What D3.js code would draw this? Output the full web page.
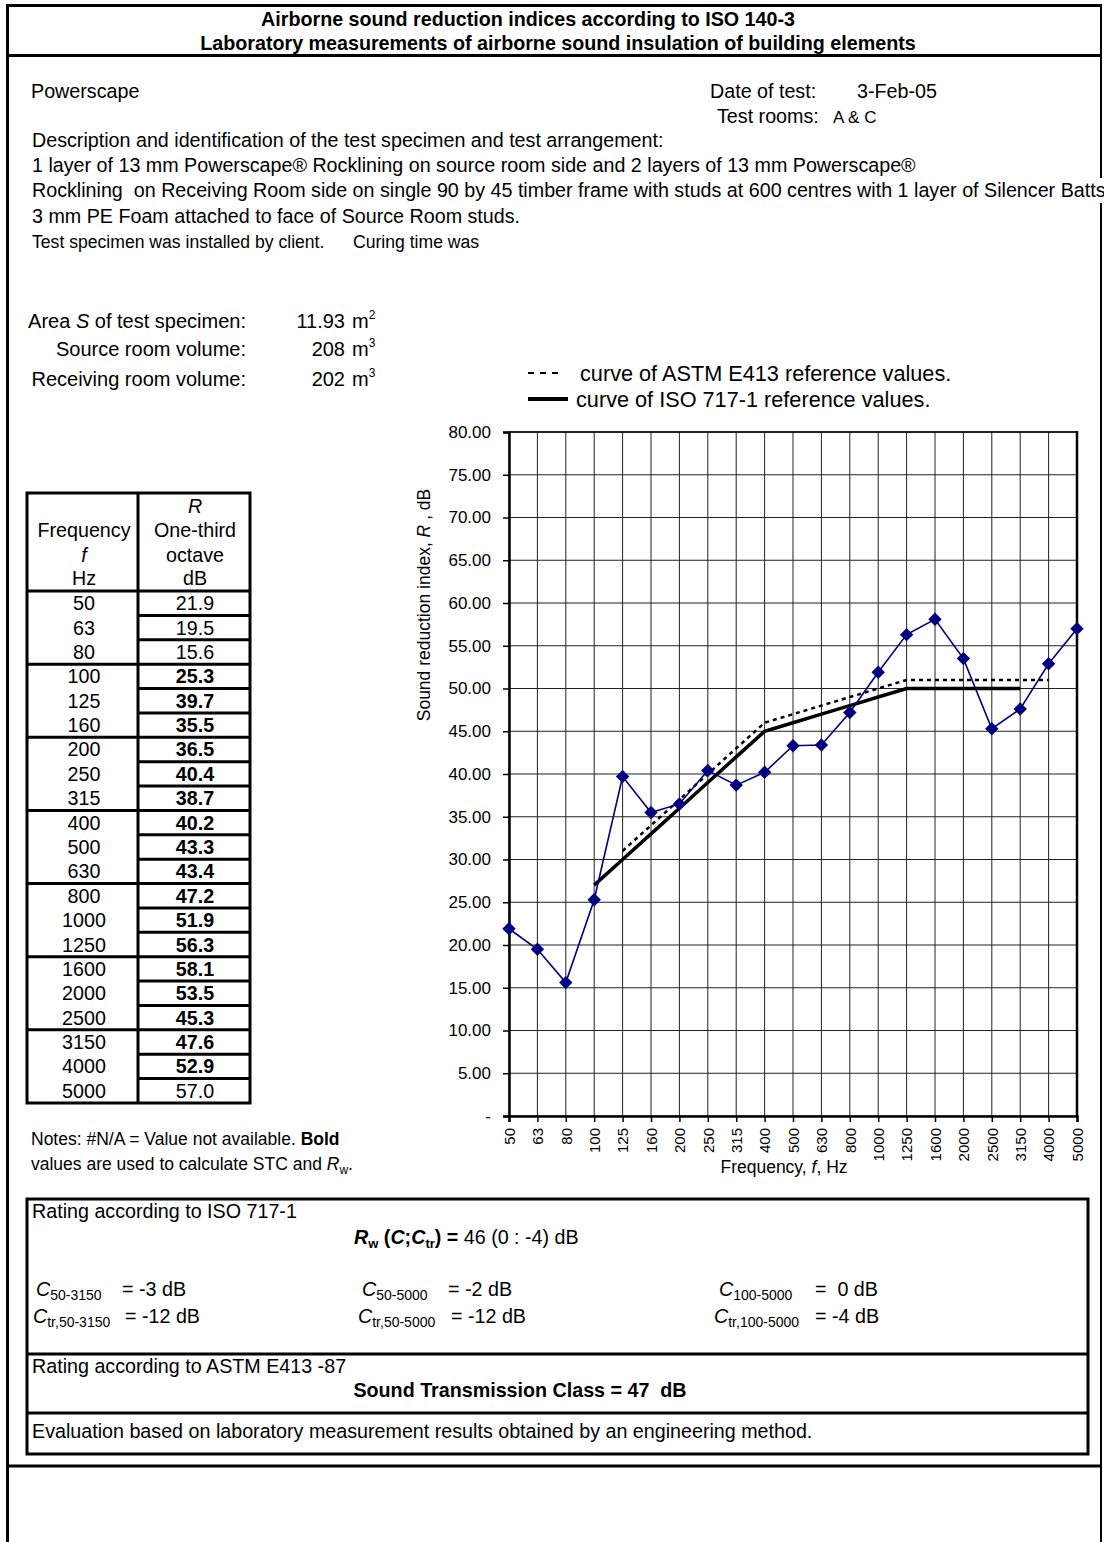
<!DOCTYPE html>
<html><head><meta charset="utf-8">
<script src="https://cdn.jsdelivr.net/npm/d3@7/dist/d3.min.js"></script>
<style>body{margin:0;background:#fff}svg{display:block;font-family:Arial,"Liberation Sans",sans-serif}</style>
</head><body><svg id="c" width="1104" height="1542"></svg>
<script>
const freqs = ["50","63","80","100","125","160","200","250","315","400","500","630","800","1000","1250","1600","2000","2500","3150","4000","5000"];
const measured = [21.9,19.5,15.6,25.3,39.7,35.5,36.5,40.4,38.7,40.2,43.3,43.4,47.2,51.9,56.3,58.1,53.5,45.3,47.6,52.9,57.0];
const boldFlags = [0,0,0,1,1,1,1,1,1,1,1,1,1,1,1,1,1,1,1,1,0];
const isoRef = [null,null,null,27,30,33,36,39,42,45,46,47,48,49,50,50,50,50,50,null,null];
const astmRef = [null,null,null,null,31,34,37,40,43,46,47,48,49,50,51,51,51,51,51,51,null];
const yTicks = [0,5,10,15,20,25,30,35,40,45,50,55,60,65,70,75,80];

const BASE = 19.7;
const svg = d3.select("#c");
function txt(x,y,s,opt={}){
  const t = svg.append("text").attr("x",x).attr("y",y).text(s)
    .attr("font-size",opt.size||BASE).attr("fill","#000");
  if(opt.bold) t.attr("font-weight","bold");
  if(opt.italic) t.attr("font-style","italic");
  if(opt.anchor) t.attr("text-anchor",opt.anchor);
  return t;
}
function line(x1,y1,x2,y2,w,col){
  return svg.append("line").attr("x1",x1).attr("y1",y1).attr("x2",x2).attr("y2",y2)
    .attr("stroke",col||"#000").attr("stroke-width",w||1);
}

// page frame
line(7.5,5.5,1101,5.5,3);
line(7.5,55.5,1101,55.5,3);
line(7.5,4,7.5,1542,3);
line(1101,4,1101,178,2);
line(1101,203,1101,1542,2);
line(7.5,1466,1101,1466,3);

// header
txt(528,26,"Airborne sound reduction indices according to ISO 140-3",{bold:true,anchor:"middle"});
txt(558,50,"Laboratory measurements of airborne sound insulation of building elements",{bold:true,anchor:"middle"});

txt(31,98,"Powerscape");
txt(710,98,"Date of test:");
txt(857,98,"3-Feb-05");
txt(717,123,"Test rooms:");
txt(833,123,"A & C",{size:17});

txt(32,147,"Description and identification of the test specimen and test arrangement:");
txt(32,172,"1 layer of 13 mm Powerscape® Rocklining on source room side and 2 layers of 13 mm Powerscape®");
txt(32,197,"Rocklining  on Receiving Room side on single 90 by 45 timber frame with studs at 600 centres with 1 layer of Silencer Batts").attr("xml:space","preserve");
txt(32,223,"3 mm PE Foam attached to face of Source Room studs.");
txt(32,248,"Test specimen was installed by client.",{size:17.6});
txt(353,248,"Curing time was",{size:17.6});

// area / volumes
const areaLabels = [["Area ",["S","i"]," of test specimen:"],["Source room volume:"],["Receiving room volume:"]];
const areaVals = ["11.93","208","202"];
const areaSup = ["2","3","3"];
const areaY = [328,356,386];
areaLabels.forEach((parts,i)=>{
  const t = txt(246,areaY[i],"",{anchor:"end",size:20}).attr("xml:space","preserve");
  parts.forEach(p=>{
    if(Array.isArray(p)) t.append("tspan").attr("font-style","italic").text(p[0]);
    else t.append("tspan").text(p);
  });
  txt(345,areaY[i],areaVals[i],{anchor:"end",size:20});
  const m = txt(352,areaY[i],"m",{size:20});
  m.append("tspan").attr("dy",-9).attr("font-size",12).text(areaSup[i]);
});

// legend
line(528,373,564,373,2).attr("stroke-dasharray","6,6");
txt(580,381,"curve of ASTM E413 reference values.",{size:21.7});
line(528,399,568,399,4);
txt(576,407,"curve of ISO 717-1 reference values.",{size:21.7});

// chart
const x = d3.scalePoint().domain(freqs).range([509,1077]);
const y = d3.scaleLinear().domain([0,80]).range([1116,432]);
const g = svg.append("g");
g.selectAll(".vg").data(freqs).join("line")
  .attr("x1",d=>x(d)).attr("x2",d=>x(d)).attr("y1",y(80)).attr("y2",y(0))
  .attr("stroke","#222").attr("stroke-width",1);
g.selectAll(".hg").data(yTicks).join("line")
  .attr("x1",x("50")).attr("x2",x("5000")).attr("y1",d=>y(d)).attr("y2",d=>y(d))
  .attr("stroke","#222").attr("stroke-width",1);
const ya = d3.axisLeft(y).tickValues(yTicks).tickSize(6).tickFormat(d=>d===0?"-":d3.format(".2f")(d));
const yg = svg.append("g").attr("transform",`translate(${x("50")},0)`).call(ya);
yg.select(".domain").attr("stroke-width",2.5);
yg.selectAll("text").attr("font-size",17).attr("font-family","Arial,'Liberation Sans',sans-serif").attr("fill","#000").attr("x",-18);
yg.selectAll(".tick line").attr("stroke-width",1.5);
const xa = d3.axisBottom(x).tickSize(6);
const xg = svg.append("g").attr("transform",`translate(0,${y(0)})`).call(xa);
xg.select(".domain").attr("stroke-width",2.5);
xg.selectAll(".tick line").attr("stroke-width",1.5);
xg.selectAll("text").attr("font-size",15).attr("font-family","Arial,'Liberation Sans',sans-serif").attr("fill","#000")
  .attr("transform","rotate(-90)").attr("text-anchor","end").attr("x",-12).attr("y",0).attr("dy","0.35em");
line(x("5000"),y(80)-1,x("5000"),y(0),2.5);
line(x("50"),y(80),x("5000")+1,y(80),1.5);

const yt = txt(0,0,"",{size:17.5,anchor:"middle"}).attr("transform","translate(430,605) rotate(-90)").attr("xml:space","preserve");
yt.append("tspan").text("Sound reduction index, ");
yt.append("tspan").attr("font-style","italic").text("R");
yt.append("tspan").text(" , dB");
const xt = txt(784,1173,"",{size:17.5,anchor:"middle"});
xt.append("tspan").text("Frequency, ");
xt.append("tspan").attr("font-style","italic").text("f");
xt.append("tspan").text(", Hz");

const idx = freqs.map((f,i)=>i);
const lineGen = arr => d3.line().defined(i=>arr[i]!=null).x(i=>x(freqs[i])).y(i=>y(arr[i]));
svg.append("path").attr("d",lineGen(astmRef)(idx)).attr("fill","none").attr("stroke","#000")
  .attr("stroke-width",2.5).attr("stroke-dasharray","4,4");
svg.append("path").attr("d",lineGen(isoRef)(idx)).attr("fill","none").attr("stroke","#000")
  .attr("stroke-width",3.5);
svg.append("path").attr("d",lineGen(measured)(idx)).attr("fill","none").attr("stroke","#000080")
  .attr("stroke-width",1.6);
svg.selectAll(".mk").data(idx).join("path")
  .attr("d",d3.symbol(d3.symbolSquare,90)())
  .attr("transform",i=>`translate(${x(freqs[i])},${y(measured[i])}) rotate(45)`)
  .attr("fill","#000080");

// table
const tX0=27, tX1=138, tX2=250, tY0=493, tH=591, rowH=(1103-591)/21;
svg.append("rect").attr("x",tX0).attr("y",tY0).attr("width",tX2-tX0).attr("height",1103-tY0)
  .attr("fill","none").attr("stroke","#000").attr("stroke-width",3);
line(tX1,tY0,tX1,1103,3);
line(tX0,tH,tX2,tH,3);
txt(195,513,"R",{italic:true,anchor:"middle"});
txt(84,537,"Frequency",{anchor:"middle"});
txt(195,537,"One-third",{anchor:"middle"});
txt(84,562,"f",{italic:true,anchor:"middle"});
txt(195,562,"octave",{anchor:"middle"});
txt(84,585,"Hz",{anchor:"middle"});
txt(195,585,"dB",{anchor:"middle"});
freqs.forEach((f,i)=>{
  const top = tH + i*rowH;
  if(i>0) line(tX1,top,tX2,top,3);
  if(i>0 && i%3===0) line(tX0,top,tX1,top,3);
  txt(84,top+rowH/2+7,f,{anchor:"middle"});
  txt(195,top+rowH/2+7,measured[i].toFixed(1),{anchor:"middle",bold:!!boldFlags[i]});
});

// notes
const n1 = txt(31,1145,"Notes: #N/A = Value not available. ",{size:17.5}).attr("xml:space","preserve");
n1.append("tspan").attr("font-weight","bold").text("Bold");
const n2 = txt(31,1170,"values are used to calculate STC and ",{size:17.5}).attr("xml:space","preserve");
n2.append("tspan").attr("font-style","italic").text("R");
n2.append("tspan").attr("font-size",12).attr("dy",4).text("w");
n2.append("tspan").attr("dy",-4).text(".");

// rating box
svg.append("rect").attr("x",27).attr("y",1199).attr("width",1088-27).attr("height",1454-1199)
  .attr("fill","none").attr("stroke","#000").attr("stroke-width",3);
line(27,1354,1088,1354,3);
line(27,1413,1088,1413,3);
txt(32,1218,"Rating according to ISO 717-1");
const rw = txt(354,1244,"").attr("xml:space","preserve");
rw.append("tspan").attr("font-weight","bold").attr("font-style","italic").text("R");
rw.append("tspan").attr("font-weight","bold").attr("font-size",13).attr("dy",4).text("w");
rw.append("tspan").attr("font-weight","bold").attr("dy",-4).text(" (");
rw.append("tspan").attr("font-weight","bold").attr("font-style","italic").text("C");
rw.append("tspan").attr("font-weight","bold").text(";");
rw.append("tspan").attr("font-weight","bold").attr("font-style","italic").text("C");
rw.append("tspan").attr("font-weight","bold").attr("font-size",13).attr("dy",4).text("tr");
rw.append("tspan").attr("font-weight","bold").attr("dy",-4).text(") =");
rw.append("tspan").text(" 46 (0 : -4) dB");

const cLabels = [["50-3150","tr,50-3150"],["50-5000","tr,50-5000"],["100-5000","tr,100-5000"]];
const cVals = [["= -3 dB","= -12 dB"],["= -2 dB","= -12 dB"],["=  0 dB","= -4 dB"]];
const cX = [[36,33],[362,358],[719,714]];
const cEq = [[122,125],[448,451],[815,815]];
const cY = [1296,1323];
cLabels.forEach((col,ci)=>{
  col.forEach((sub,ri)=>{
    const t = txt(cX[ci][ri],cY[ri],"");
    t.append("tspan").attr("font-style","italic").text("C");
    t.append("tspan").attr("font-size",14).attr("dy",4).text(sub);
    txt(cEq[ci][ri],cY[ri],cVals[ci][ri]).attr("xml:space","preserve");
  });
});
txt(32,1373,"Rating according to ASTM E413 -87");
txt(520,1397,"Sound Transmission Class = 47  dB",{bold:true,anchor:"middle"}).attr("xml:space","preserve");
txt(32,1438,"Evaluation based on laboratory measurement results obtained by an engineering method.");
</script></body></html>
